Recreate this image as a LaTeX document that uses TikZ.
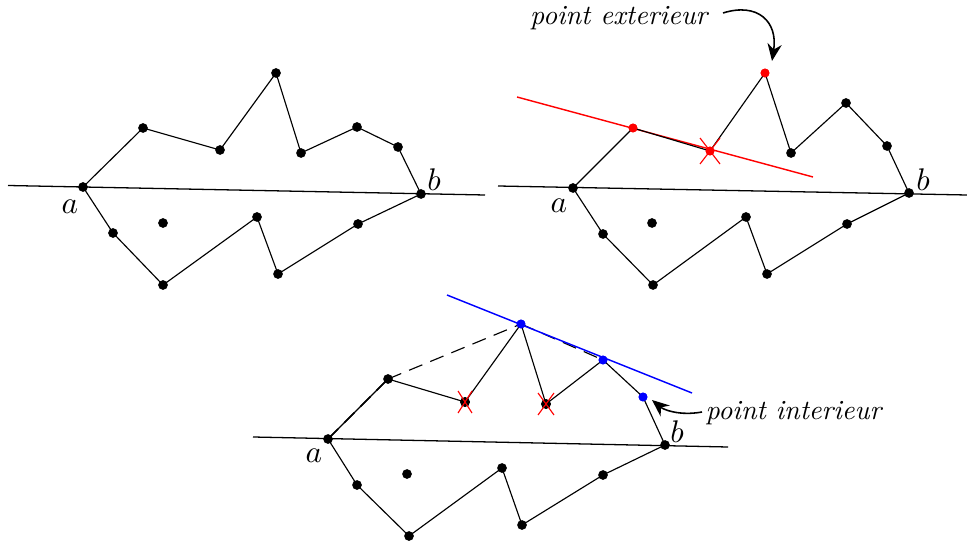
\documentclass[tikz,border=0pt]{standalone}
\usetikzlibrary{arrows.meta}
\begin{document}
\begin{tikzpicture}[x=0.35pt,y=-0.35pt,
  dot/.style={circle,fill=black,inner sep=0pt,minimum size=3.4pt},
  cdot/.style={circle,fill=#1,inner sep=0pt,minimum size=3.1pt},
  edge/.style={line width=0.4pt,black},
  axis/.style={line width=0.45pt,black},
  lab/.style={inner sep=0pt,font=\fontsize{11}{13}\selectfont},
  txt/.style={inner sep=0pt,font=\fontsize{9.7}{12}\selectfont\itshape},
  xmark/.style={red,line width=0.4pt},
  pointer/.style={line width=0.55pt,-{Stealth[length=6pt,width=5pt]}}]
\useasboundingbox (0,0) rectangle (967,544);

% ---------------- diagram 1 (top left)
\coordinate (L1s) at (8,185.5);
\coordinate (L1e) at (485,195);
\node[dot] (A1) at (83,187) {};
\node[dot] (P11) at (143,128) {};
\node[dot] (P12) at (220,150) {};
\node[dot] (P13) at (276,73) {};
\node[dot] (P14) at (301,153) {};
\node[dot] (P15) at (357,127) {};
\node[dot] (P16) at (398,147) {};
\node[dot] (B1) at (421,194) {};
\node[dot] (Q15) at (358,224) {};
\node[dot] (Q14) at (278,274) {};
\node[dot] (Q13) at (257,217) {};
\node[dot] (Q12) at (163,285) {};
\node[dot] (Q11) at (113,233) {};
\node[dot] (I1) at (163,223) {};
\draw[axis] (L1s) -- (L1e);
\draw[edge] (A1.center) -- (P11.center) -- (P12.center) -- (P13.center) -- (P14.center) -- (P15.center) -- (P16.center) -- (B1.center)
  -- (Q15.center) -- (Q14.center) -- (Q13.center) -- (Q12.center) -- (Q11.center) -- (A1.center);
\node[lab] (la1) at (70,207) {$a$};
\node[lab] (lb1) at (434,180) {$b$};

% ---------------- diagram 2 (top right)
\coordinate (L2s) at (498,186);
\coordinate (L2e) at (967,195);
\coordinate (R2s) at (517,97);
\coordinate (R2e) at (813,177);
\node[dot] (A2) at (573,188) {};
\node[cdot=red] (P21) at (633,128) {};
\node[cdot=red] (P22) at (710,151) {};
\node[cdot=red] (P23) at (765,73) {};
\node[dot] (P24) at (791,153) {};
\node[dot] (P25) at (846,103) {};
\node[dot] (P26) at (887,146) {};
\node[dot] (B2) at (909,193) {};
\node[dot] (Q25) at (847,224) {};
\node[dot] (Q24) at (767,274) {};
\node[dot] (Q23) at (746,217) {};
\node[dot] (Q22) at (653,285) {};
\node[dot] (Q21) at (603,234) {};
\node[dot] (I2) at (652,223) {};
\draw[axis] (L2s) -- (L2e);
\draw[red,line width=0.5pt] (R2s) -- (R2e);
\draw[edge] (A2.center) -- (P21.center) -- (P22.center) -- (P23.center) -- (P24.center) -- (P25.center) -- (P26.center) -- (B2.center)
  -- (Q25.center) -- (Q24.center) -- (Q23.center) -- (Q22.center) -- (Q21.center) -- (A2.center);
\node[cdot=red] at (P21) {};
\node[cdot=red] at (P22) {};
\node[cdot=red] at (P23) {};
\draw[xmark] ([shift={(-10,-13)}]P22.center) -- ([shift={(10,13)}]P22.center);
\draw[xmark] ([shift={(10,-13)}]P22.center) -- ([shift={(-10,13)}]P22.center);
\node[lab] (la2) at (559,206) {$a$};
\node[lab] (lb2) at (923,180) {$b$};
\node[txt,anchor=east] (ext) at (708,18) {point exterieur};
\coordinate (ext0) at (723,13);
\draw[pointer] (ext0) .. controls (758,2) and (778,22) .. (772,61);

% ---------------- diagram 3 (bottom)
\coordinate (L3s) at (253,437);
\coordinate (L3e) at (728,447);
\coordinate (U3s) at (447,295);
\coordinate (U3e) at (692,393);
\node[dot] (A3) at (328,439) {};
\node[dot] (P31) at (388,379) {};
\node[dot] (P32) at (465,402) {};
\node[cdot=blue] (P33) at (521,324) {};
\node[dot] (P34) at (546,404) {};
\node[cdot=blue] (P35) at (603,360) {};
\node[cdot=blue] (P36) at (643,397) {};
\node[dot] (B3) at (665,445) {};
\node[dot] (Q35) at (603,475) {};
\node[dot] (Q34) at (522,525) {};
\node[dot] (Q33) at (502,468) {};
\node[dot] (Q32) at (409,536) {};
\node[dot] (Q31) at (357,485) {};
\node[dot] (I3) at (407,474) {};
\draw[axis] (L3s) -- (L3e);
\draw[edge,dash pattern=on 5pt off 3pt] (P33.center) -- (P35.center);
\draw[blue,line width=0.5pt] (U3s) -- (U3e);
\draw[edge] (A3.center) -- (P31.center) -- (P32.center) -- (P33.center) -- (P34.center) -- (P35.center) -- (P36.center) -- (B3.center)
  -- (Q35.center) -- (Q34.center) -- (Q33.center) -- (Q32.center) -- (Q31.center) -- (A3.center);
\draw[edge,dash pattern=on 5pt off 3pt] (P31.center) -- (P33.center);
\draw[line width=0.6pt,dash pattern=on 5pt off 3pt] (A3.center) -- (P31.center);
\node[cdot=blue] at (P33) {};
\node[cdot=blue] at (P35) {};
\node[cdot=blue] at (P36) {};
\node[dot] at (P32) {};
\node[dot] at (P34) {};
\draw[xmark] ([shift={(-7,-11)}]P32.center) -- ([shift={(7,11)}]P32.center);
\draw[xmark] ([shift={(7,-11)}]P32.center) -- ([shift={(-7,11)}]P32.center);
\draw[xmark] ([shift={(-8,-11)}]P34.center) -- ([shift={(8,11)}]P34.center);
\draw[xmark] ([shift={(8,-11)}]P34.center) -- ([shift={(-8,11)}]P34.center);
\node[lab] (la3) at (314,456) {$a$};
\node[lab] (lb3) at (677,432) {$b$};
\node[txt,anchor=west] (int) at (705,413) {point interieur};
\coordinate (int0) at (702,412);
\draw[pointer] (int0) .. controls (680,416) and (664,410) .. ([shift={(9,3)}]P36.center);
\end{tikzpicture}
\end{document}
